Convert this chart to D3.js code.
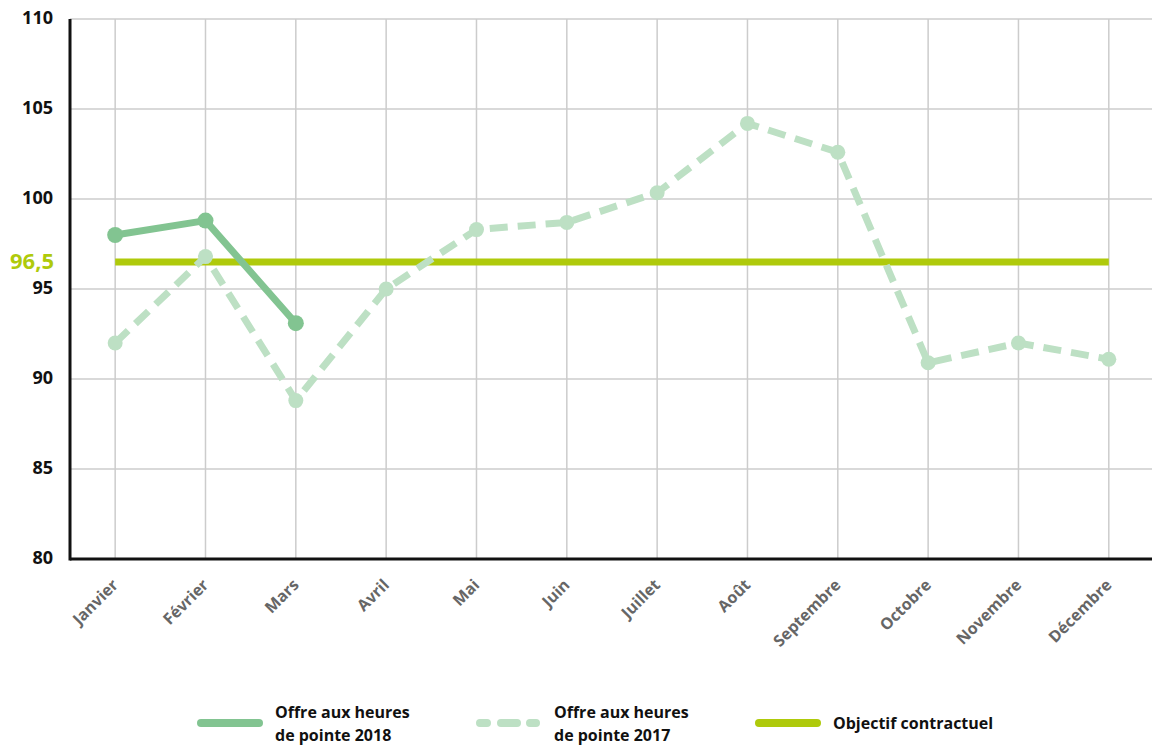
<!DOCTYPE html>
<html>
<head>
<meta charset="utf-8">
<script src="https://cdn.jsdelivr.net/npm/d3@7"></script>
<style>
  html, body { margin: 0; padding: 0; background: #fff; }
  svg { display: block; font-family: "Open Sans", sans-serif; }
</style>
</head>
<body>
<div id="chart"></div>
<script>
// Chart data
const months = ['Janvier', 'Février', 'Mars', 'Avril', 'Mai', 'Juin', 'Juillet', 'Août', 'Septembre', 'Octobre', 'Novembre', 'Décembre'];
const offre2018 = [98.0, 98.8, 93.1];
const offre2017 = [92.0, 96.8, 88.8, 95.0, 98.3, 98.7, 100.35, 104.2, 102.6, 90.9, 92.0, 91.1];
const objectif = 96.5;
const yTicks = [80, 85, 90, 95, 100, 105, 110];

const width = 1152;
const height = 746;
const margin = { top: 19, right: 0, bottom: 187, left: 70 };

const colors = {
  y2018: '#82c491',
  y2017: '#bde0c4',
  objectif: '#afca0b',
  grid: '#cccccc',
  label: '#666666'
};

const svg = d3.select('#chart')
  .append('svg')
  .attr('width', width)
  .attr('height', height);

// Scales
const x = d3.scalePoint()
  .domain(months)
  .range([margin.left, margin.left + 12 * 90.33])
  .padding(0.5);

const y = d3.scaleLinear()
  .domain([80, 110])
  .range([height - margin.bottom, margin.top]);

// Gridlines
svg.append('g')
  .selectAll('line')
  .data(yTicks.filter((d) => d !== 80))
  .enter()
  .append('line')
  .attr('x1', margin.left)
  .attr('x2', width)
  .attr('y1', (d) => y(d))
  .attr('y2', (d) => y(d))
  .attr('stroke', colors.grid)
  .attr('stroke-width', 1.5);

svg.append('g')
  .selectAll('line')
  .data(months)
  .enter()
  .append('line')
  .attr('x1', (d) => x(d))
  .attr('x2', (d) => x(d))
  .attr('y1', y(110))
  .attr('y2', y(80))
  .attr('stroke', colors.grid)
  .attr('stroke-width', 1.5);

// Axes lines
svg.append('line')
  .attr('x1', margin.left)
  .attr('x2', width)
  .attr('y1', y(80))
  .attr('y2', y(80))
  .attr('stroke', '#111')
  .attr('stroke-width', 3);

svg.append('line')
  .attr('x1', margin.left)
  .attr('x2', margin.left)
  .attr('y1', y(110))
  .attr('y2', y(80) + 1.5)
  .attr('stroke', '#111')
  .attr('stroke-width', 3);

// Y tick labels
svg.append('g')
  .selectAll('text')
  .data(yTicks)
  .enter()
  .append('text')
  .attr('x', 53)
  .attr('y', (d) => y(d) + 4.5)
  .attr('text-anchor', 'end')
  .style('font-size', '18px')
  .style('font-weight', 700)
  .attr('fill', '#111')
  .text((d) => d);

// Objective label
svg.append('text')
  .attr('x', 54)
  .attr('y', y(objectif) + 7)
  .attr('text-anchor', 'end')
  .style('font-size', '22px')
  .style('font-weight', 700)
  .attr('fill', colors.objectif)
  .text(String(objectif).replace('.', ','));

// X labels
svg.append('g')
  .selectAll('text')
  .data(months)
  .enter()
  .append('text')
  .attr('transform', (d) => `translate(${x(d) + 4},${y(80) + 27}) rotate(-45)`)
  .attr('text-anchor', 'end')
  .style('font-size', '16px')
  .style('font-weight', 700)
  .attr('fill', colors.label)
  .text((d) => d);

// Objective line
svg.append('line')
  .attr('x1', x(months[0]))
  .attr('x2', x(months[months.length - 1]))
  .attr('y1', y(objectif))
  .attr('y2', y(objectif))
  .attr('stroke', colors.objectif)
  .attr('stroke-width', 7);

const line = d3.line()
  .x((d, i) => x(months[i]))
  .y((d) => y(d));

// 2017 series (dashed)
svg.append('path')
  .datum(offre2017)
  .attr('d', line)
  .attr('fill', 'none')
  .attr('stroke', colors.y2017)
  .attr('stroke-width', 7)
  .attr('stroke-dasharray', '18 10');

svg.append('g')
  .selectAll('circle')
  .data(offre2017)
  .enter()
  .append('circle')
  .attr('cx', (d, i) => x(months[i]))
  .attr('cy', (d) => y(d))
  .attr('r', 7.5)
  .attr('fill', colors.y2017);

// 2018 series
svg.append('path')
  .datum(offre2018)
  .attr('d', line)
  .attr('fill', 'none')
  .attr('stroke', colors.y2018)
  .attr('stroke-width', 7)
  .attr('stroke-linejoin', 'round');

svg.append('g')
  .selectAll('circle')
  .data(offre2018)
  .enter()
  .append('circle')
  .attr('cx', (d, i) => x(months[i]))
  .attr('cy', (d) => y(d))
  .attr('r', 8)
  .attr('fill', colors.y2018);

// Legend
const legendItems = [
  { lines: ['Offre aux heures', 'de pointe 2018'], color: colors.y2018, dash: null, x: 197 },
  { lines: ['Offre aux heures', 'de pointe 2017'], color: colors.y2017, dash: '7 14 16 13 6', x: 476 },
  { lines: ['Objectif contractuel'], color: colors.objectif, dash: null, x: 755 }
];

const legend = svg.append('g');
legendItems.forEach((item) => {
  legend.append('line')
    .attr('x1', item.x + 4)
    .attr('x2', item.x + 62)
    .attr('y1', 723)
    .attr('y2', 723)
    .attr('stroke', item.color)
    .attr('stroke-width', 8)
    .attr('stroke-linecap', 'round')
    .attr('stroke-dasharray', item.dash);

  const text = legend.append('text')
    .attr('x', item.x + 78)
    .style('font-size', '16px')
    .style('font-weight', 700)
    .attr('fill', '#111');
  const startY = item.lines.length === 1 ? 729 : 718;
  item.lines.forEach((l, i) => {
    text.append('tspan')
      .attr('x', item.x + 78)
      .attr('y', startY + i * 23)
      .text(l);
  });
});
</script>
</body>
</html>
